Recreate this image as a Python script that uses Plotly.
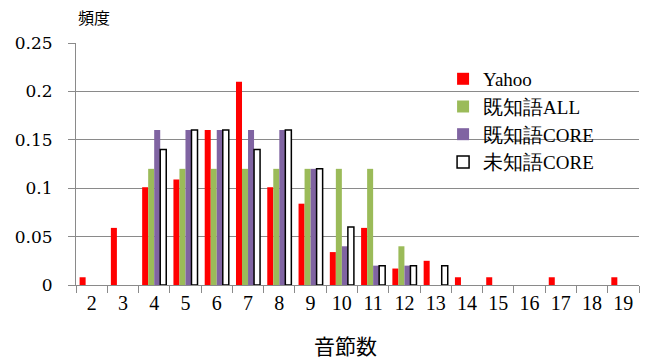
import plotly.graph_objects as go

categories = [str(i) for i in range(2, 20)]
yahoo = [0.008, 0.059, 0.101, 0.109, 0.160, 0.210, 0.101, 0.084, 0.034, 0.059,
         0.017, 0.025, 0.008, 0.008, None, 0.008, None, 0.008]
known_all = [None, None, 0.12, 0.12, 0.12, 0.12, 0.12, 0.12, 0.12, 0.12,
             0.04, None, None, None, None, None, None, None]
known_core = [None, None, 0.16, 0.16, 0.16, 0.16, 0.16, 0.12, 0.04, 0.02,
              0.02, None, None, None, None, None, None, None]
unknown_core = [None, None, 0.14, 0.16, 0.16, 0.14, 0.16, 0.12, 0.06, 0.02,
                0.02, 0.02, None, None, None, None, None, None]
y_ticks = [0, 0.05, 0.1, 0.15, 0.2, 0.25]
y_tick_text = ["0", "0.05", "0.1", "0.15", "0.2", "0.25"]

SERIF = "DejaVu Serif"
TNR = "Liberation Serif"
GRID = "#8a8a8a"

fig = go.Figure()
fig.add_bar(x=categories, y=yahoo, name="Yahoo", marker=dict(color="#FF0000", line=dict(width=0)))
fig.add_bar(x=categories, y=known_all, name='<span style="font-size:20px">既知語</span>ALL',
            marker=dict(color="#9BBB59", line=dict(width=0)))
fig.add_bar(x=categories, y=known_core, name='<span style="font-size:20px">既知語</span>CORE',
            marker=dict(color="#8064A2", line=dict(width=0)))
fig.add_bar(x=categories, y=unknown_core, name='<span style="font-size:20px">未知語</span>CORE',
            marker=dict(color="#FFFFFF", line=dict(width=1.5, color="#000000")))

fig.update_layout(
    width=650, height=361,
    margin=dict(l=76, r=11, t=43, b=76),
    paper_bgcolor="white", plot_bgcolor="white",
    barmode="group", bargap=0.23, bargroupgap=0,
    showlegend=True,
    legend=dict(x=0.652, y=0.93, xanchor="left", yanchor="top",
                bgcolor="rgba(0,0,0,0)", font=dict(family=TNR, size=19, color="black"),
                tracegroupgap=0, itemwidth=30),
    xaxis=dict(type="category", categoryorder="array", categoryarray=categories,
               tickson="boundaries", ticks="outside", ticklen=7, tickcolor=GRID,
               showline=True, linecolor=GRID, linewidth=1, showgrid=False,
               tickfont=dict(family=TNR, size=20, color="black")),
    yaxis=dict(range=[0, 0.25], tickvals=y_ticks, ticktext=y_tick_text,
               ticks="outside", ticklen=7, tickcolor=GRID, showline=True, linecolor=GRID, linewidth=1,
               showgrid=True, gridcolor=GRID, gridwidth=1, zeroline=False,
               ticklabelstandoff=12,
               tickfont=dict(family=SERIF, size=17, color="black")),
    annotations=[
        dict(text="頻度", xref="paper", yref="paper", x=0, y=1, xanchor="left", yanchor="bottom",
             yshift=12, showarrow=False, font=dict(family="Noto Sans CJK JP", size=16, color="black")),
        dict(text="音節数", xref="paper", yref="paper", x=0.478, y=0, xanchor="center", yanchor="middle",
             yshift=-60, showarrow=False, font=dict(family="Noto Sans CJK JP", size=21, color="black")),
    ],
)

fig.write_html("out.html")
